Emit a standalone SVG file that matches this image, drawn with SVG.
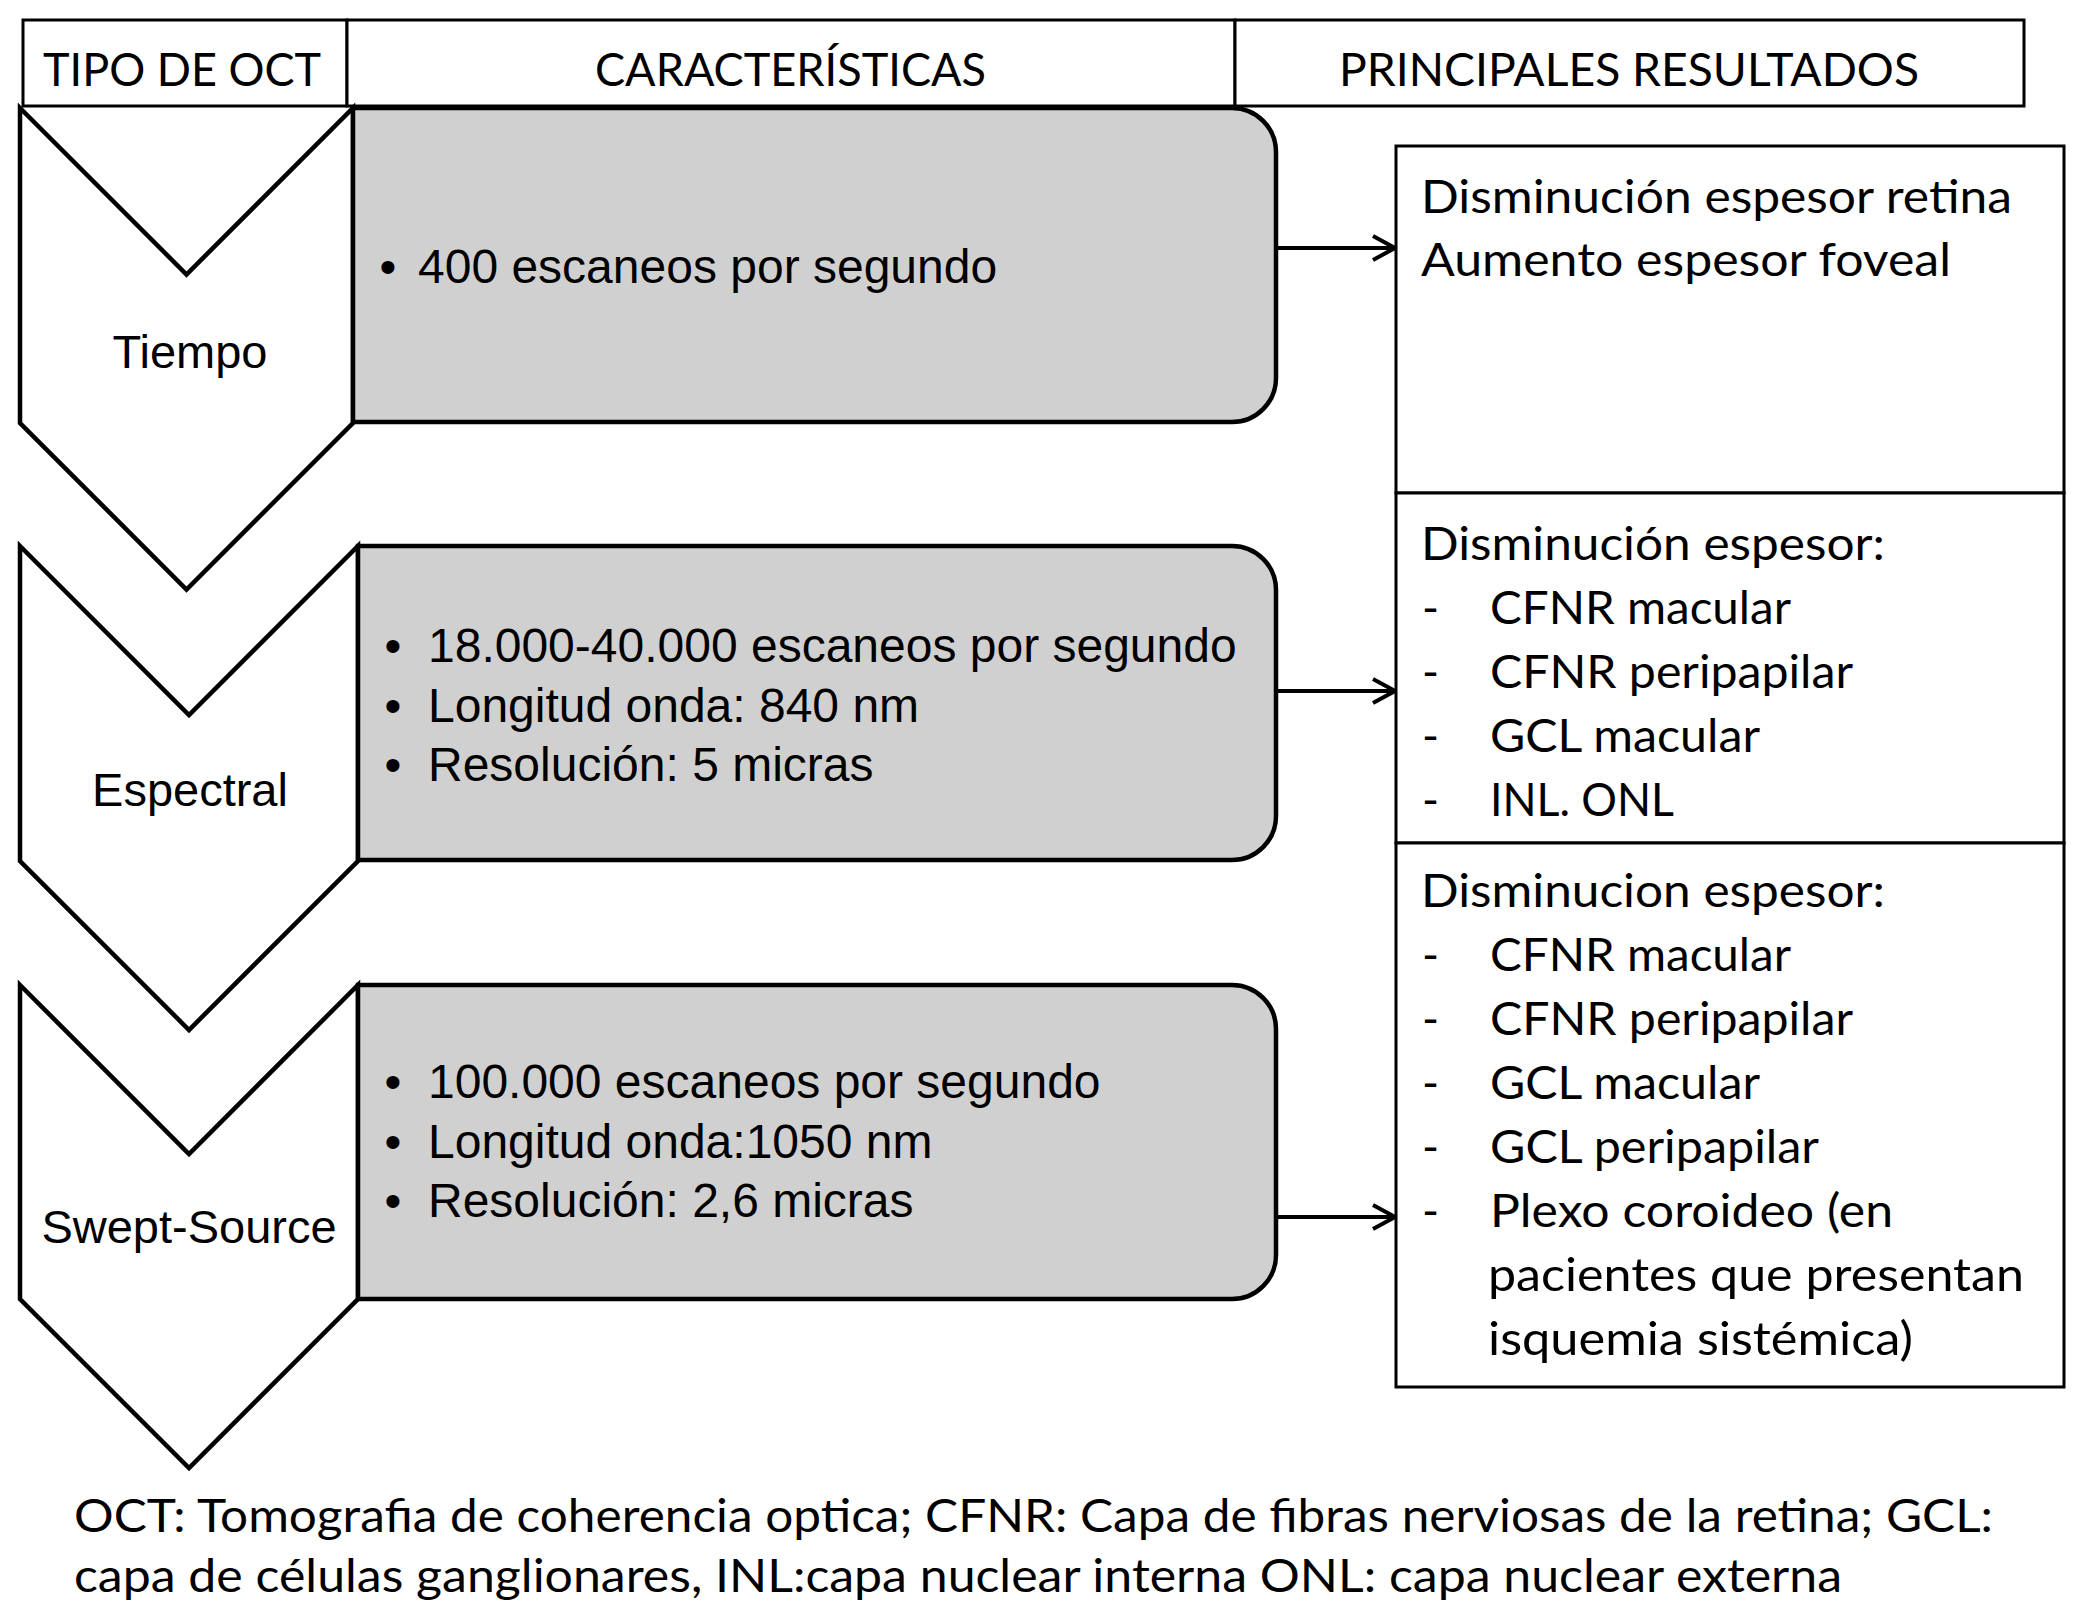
<svg xmlns="http://www.w3.org/2000/svg" width="2091" height="1612" viewBox="0 0 2091 1612">
<style>
.hdr{fill:#fff;stroke:#000;stroke-width:3}
.chev{fill:#fff;stroke:#000;stroke-width:4.5;stroke-linejoin:miter}
.gray{fill:#d0d0d0;stroke:#000;stroke-width:4.5}
.res{fill:#fff;stroke:#000;stroke-width:3}
.cal{font-family:Lato,"Open Sans",sans-serif;font-size:46px;fill:#000}
.ari{font-family:"Liberation Sans",Arial,sans-serif;font-size:48px;fill:#000}
.lab{font-family:"Liberation Sans",Arial,sans-serif;font-size:47px;fill:#000;text-anchor:middle}
.bul{font-family:"Liberation Sans",Arial,sans-serif;font-size:48px;fill:#000;text-anchor:middle}
.conn{stroke:#000;stroke-width:4;fill:none}
</style>
<defs>
<marker id="arr" viewBox="0 0 26 28" refX="24" refY="14" markerWidth="26" markerHeight="28" markerUnits="userSpaceOnUse" orient="auto">
<path d="M2,2 L24,14 L2,26" fill="none" stroke="#000" stroke-width="4"/>
</marker>
</defs>
<rect width="2091" height="1612" fill="#fff"/>

<g id="header">
<rect class="hdr" x="23" y="20" width="324" height="86"/>
<rect class="hdr" x="347" y="20" width="888" height="86"/>
<rect class="hdr" x="1235" y="20" width="789" height="86"/>
<text class="cal" x="43" y="86" textLength="278" lengthAdjust="spacingAndGlyphs">TIPO DE OCT</text>
<text class="cal" x="595" y="86" textLength="391" lengthAdjust="spacingAndGlyphs">CARACTERÍSTICAS</text>
<text class="cal" x="1339" y="86" textLength="580" lengthAdjust="spacingAndGlyphs">PRINCIPALES RESULTADOS</text>
</g>

<g id="chevron-tiempo">
<polygon class="chev" points="20,108 186.5,274.5 353,108 353,423 186.5,589.5 20,423"/>
<text class="lab" x="190" y="368">Tiempo</text>
</g>
<g id="chevron-espectral">
<polygon class="chev" points="20,546 189,715 358,546 358,861 189,1030 20,861"/>
<text class="lab" x="190" y="806">Espectral</text>
</g>
<g id="chevron-swept">
<polygon class="chev" points="20,985 189,1154 358,985 358,1299 189,1468 20,1299"/>
<text class="lab" x="189" y="1243">Swept-Source</text>
</g>

<g id="box-tiempo">
<path class="gray" d="M353,108 H1232 A44,44 0 0 1 1276,152 V378 A44,44 0 0 1 1232,422 H353 Z"/>
<text class="bul" x="388" y="283">•</text>
<text class="ari" x="418" y="283">400 escaneos por segundo</text>
</g>
<g id="box-espectral">
<path class="gray" d="M358,546 H1232 A44,44 0 0 1 1276,590 V816 A44,44 0 0 1 1232,860 H358 Z"/>
<text class="bul" x="393" y="662">•</text>
<text class="ari" x="428" y="662">18.000-40.000 escaneos por segundo</text>
<text class="bul" x="393" y="722">•</text>
<text class="ari" x="428" y="722">Longitud onda: 840 nm</text>
<text class="bul" x="393" y="781">•</text>
<text class="ari" x="428" y="781">Resolución: 5 micras</text>
</g>
<g id="box-swept">
<path class="gray" d="M358,985 H1232 A44,44 0 0 1 1276,1029 V1255 A44,44 0 0 1 1232,1299 H358 Z"/>
<text class="bul" x="393" y="1098">•</text>
<text class="ari" x="428" y="1098">100.000 escaneos por segundo</text>
<text class="bul" x="393" y="1158">•</text>
<text class="ari" x="428" y="1158">Longitud onda:1050 nm</text>
<text class="bul" x="393" y="1217">•</text>
<text class="ari" x="428" y="1217">Resolución: 2,6 micras</text>
</g>

<g id="result-tiempo">
<rect class="res" x="1396" y="146" width="668" height="347"/>
<text class="cal" x="1421" y="213" textLength="591" lengthAdjust="spacingAndGlyphs">Disminución espesor retina</text>
<text class="cal" x="1421" y="276" textLength="530" lengthAdjust="spacingAndGlyphs">Aumento espesor foveal</text>
</g>
<g id="result-espectral">
<rect class="res" x="1396" y="493" width="668" height="350"/>
<text class="cal" x="1421" y="560" textLength="464" lengthAdjust="spacingAndGlyphs">Disminución espesor:</text>
<text class="cal" x="1422" y="624">-</text>
<text class="cal" x="1490" y="624" textLength="301" lengthAdjust="spacingAndGlyphs">CFNR macular</text>
<text class="cal" x="1422" y="688">-</text>
<text class="cal" x="1490" y="688" textLength="363" lengthAdjust="spacingAndGlyphs">CFNR peripapilar</text>
<text class="cal" x="1422" y="752">-</text>
<text class="cal" x="1490" y="752" textLength="270" lengthAdjust="spacingAndGlyphs">GCL macular</text>
<text class="cal" x="1422" y="816">-</text>
<text class="cal" x="1490" y="816" textLength="184" lengthAdjust="spacingAndGlyphs">INL. ONL</text>
</g>
<g id="result-swept">
<rect class="res" x="1396" y="843" width="668" height="544"/>
<text class="cal" x="1421" y="907" textLength="464" lengthAdjust="spacingAndGlyphs">Disminucion espesor:</text>
<text class="cal" x="1422" y="971">-</text>
<text class="cal" x="1490" y="971" textLength="301" lengthAdjust="spacingAndGlyphs">CFNR macular</text>
<text class="cal" x="1422" y="1035">-</text>
<text class="cal" x="1490" y="1035" textLength="363" lengthAdjust="spacingAndGlyphs">CFNR peripapilar</text>
<text class="cal" x="1422" y="1099">-</text>
<text class="cal" x="1490" y="1099" textLength="270" lengthAdjust="spacingAndGlyphs">GCL macular</text>
<text class="cal" x="1422" y="1163">-</text>
<text class="cal" x="1490" y="1163" textLength="329" lengthAdjust="spacingAndGlyphs">GCL peripapilar</text>
<text class="cal" x="1422" y="1227">-</text>
<text class="cal" x="1490" y="1227" textLength="403" lengthAdjust="spacingAndGlyphs">Plexo coroideo (en</text>
<text class="cal" x="1488" y="1291" textLength="536" lengthAdjust="spacingAndGlyphs">pacientes que presentan</text>
<text class="cal" x="1488" y="1355" textLength="425" lengthAdjust="spacingAndGlyphs">isquemia sistémica)</text>
</g>

<g id="connectors">
<line class="conn" x1="1278" y1="248" x2="1395" y2="248" marker-end="url(#arr)"/>
<line class="conn" x1="1278" y1="691" x2="1395" y2="691" marker-end="url(#arr)"/>
<line class="conn" x1="1278" y1="1217" x2="1395" y2="1217" marker-end="url(#arr)"/>
</g>

<g id="caption">
<text class="cal" x="74" y="1532" textLength="1919" lengthAdjust="spacingAndGlyphs">OCT: Tomografia de coherencia optica; CFNR: Capa de fibras nerviosas de la retina; GCL:</text>
<text class="cal" x="74" y="1592" textLength="1768" lengthAdjust="spacingAndGlyphs">capa de células ganglionares, INL:capa nuclear interna ONL: capa nuclear externa</text>
</g>
</svg>
